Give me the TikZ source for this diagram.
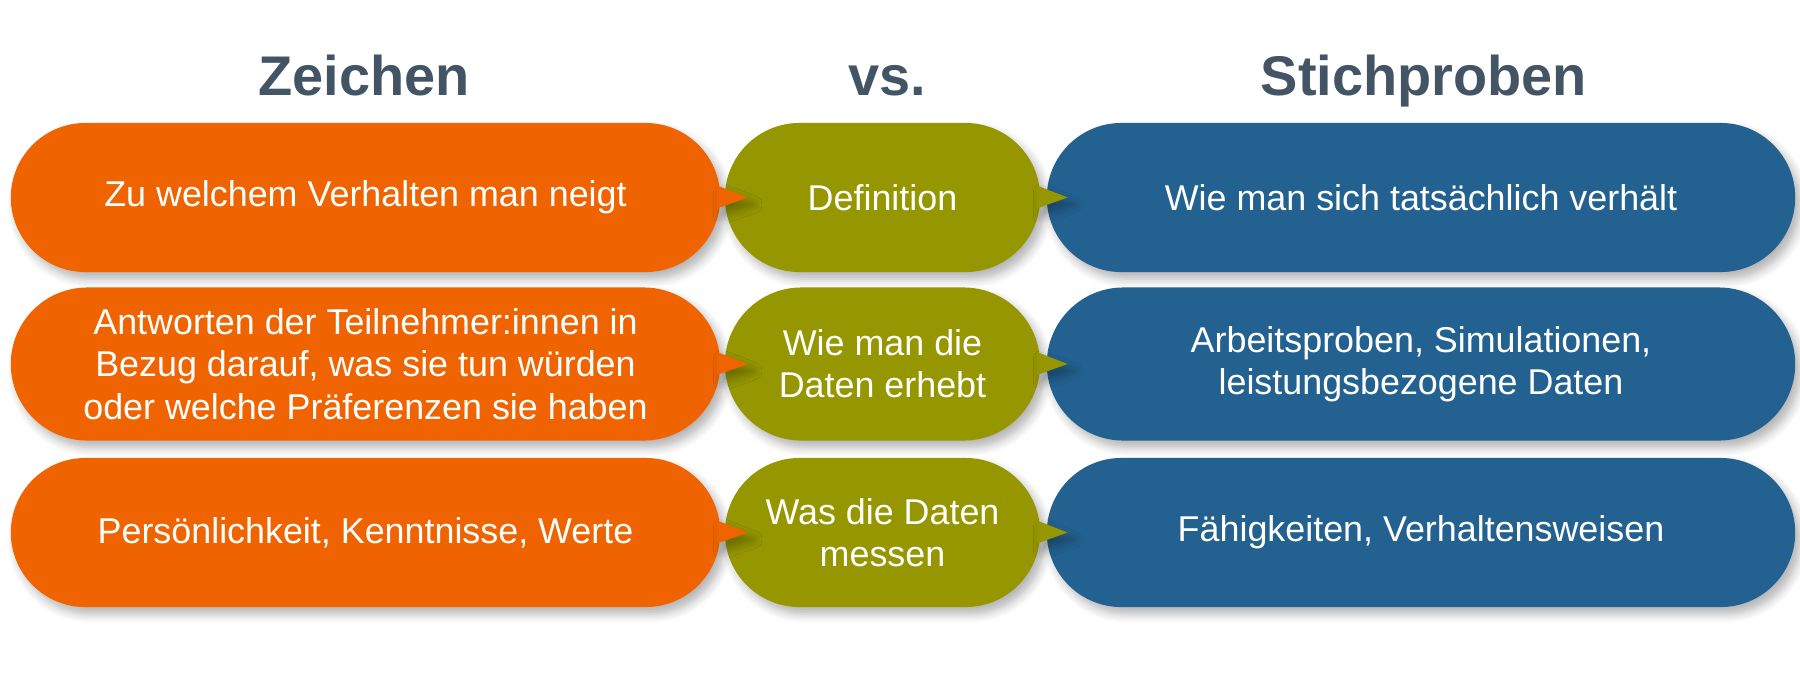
\documentclass[tikz,border=0pt]{standalone}
\usepackage{fontspec}
\setmainfont{Liberation Sans}
\usetikzlibrary{shapes.misc,shadows.blur}
\definecolor{zvorange}{HTML}{EF6400}
\definecolor{zvolive}{HTML}{959600}
\definecolor{zvblue}{HTML}{236190}
\definecolor{zvslate}{HTML}{435565}

\begin{document}
\begin{tikzpicture}[x=0.01cm, y=-0.01cm,
  softshadow/.style={blur shadow={shadow xshift=1.5pt, shadow yshift=-2pt, shadow blur radius=2.5pt, shadow blur steps=6, shadow opacity=30}},
  pill/.style={rounded rectangle, minimum height=1.49cm, inner sep=0pt, text=white, align=center,
    font=\fontsize{10.2}{12}\selectfont, softshadow},
  signpill/.style={pill, fill=zvorange, minimum width=7.09cm},
  whatpill/.style={pill, fill=zvolive, minimum width=3.15cm},
  samplepill/.style={pill, fill=zvblue, minimum width=7.48cm},
  heading/.style={anchor=base, text=zvslate, font=\fontsize{15.9}{19}\bfseries\selectfont}]
  \useasboundingbox (0,0) rectangle (1800,681);
  % column headings
  \node[heading] (hsign) at (364,95) {Zeichen};
  \node[heading] (hvs) at (887,95) {vs.};
  \node[heading] (hsample) at (1424,95) {Stichproben};
  % three rows of pills
  \node[signpill] (s1) at (365.5,197.5) {Zu welchem Verhalten man neigt};
  \node[whatpill] (w1) at (882.5,197.5) {Definition};
  \node[samplepill] (p1) at (1421,197.5) {Wie man sich tatsächlich verhält};
  \node[signpill, minimum height=1.53cm] (s2) at (365.5,364) {Antworten der Teilnehmer:innen in\\Bezug darauf, was sie tun würden\\oder welche Präferenzen sie haben};
  \node[whatpill, minimum height=1.53cm] (w2) at (882.5,364) {Wie man die\\Daten erhebt};
  \node[samplepill, minimum height=1.53cm] (p2) at (1421,364) {Arbeitsproben, Simulationen,\\leistungsbezogene Daten};
  \node[signpill] (s3) at (365.5,532.5) {Persönlichkeit, Kenntnisse, Werte};
  \node[whatpill] (w3) at (882.5,532.5) {Was die Daten\\messen};
  \node[samplepill] (p3) at (1421,532.5) {Fähigkeiten, Verhaltensweisen};
  % pointers
  \foreach \r in {1,2,3}{
    \fill[zvorange, softshadow] ([shift={(-4,-12)}]s\r.east) -- ([shift={(27,0)}]s\r.east) -- ([shift={(-4,11)}]s\r.east) -- cycle;
    \fill[zvolive, softshadow] ([shift={(-4,-12)}]w\r.east) -- ([shift={(27,0)}]w\r.east) -- ([shift={(-4,11)}]w\r.east) -- cycle;
  }
\end{tikzpicture}
\end{document}
